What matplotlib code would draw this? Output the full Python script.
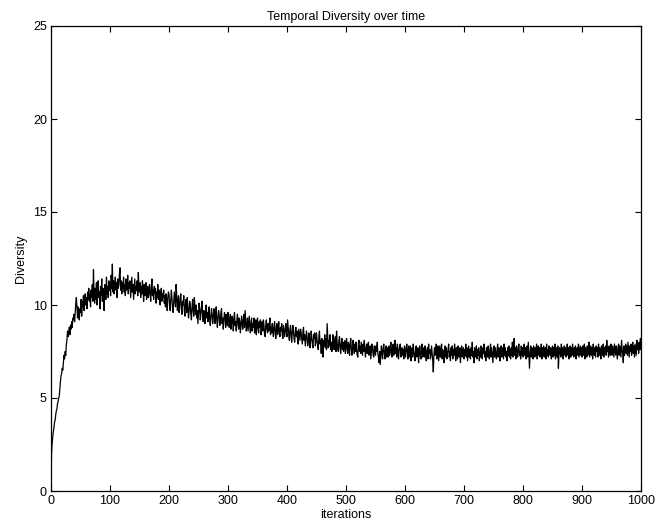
import numpy as np
import matplotlib
matplotlib.use("Agg")
import matplotlib.pyplot as plt

plt.rcParams['font.family'] = ['Liberation Sans', 'DejaVu Sans']

title_text = "Temporal Diversity over time"
x_label = "iterations"
y_label = "Diversity"
x_ticks = [0, 100, 200, 300, 400, 500, 600, 700, 800, 900, 1000]
y_ticks = [0, 5, 10, 15, 20, 25]

diversity = [
    0.5, 2.1, 2.6, 2.9, 3.2, 3.4, 3.7, 3.8, 4.1, 4.3, 4.4, 4.7, 4.8, 5.0, 5.1, 5.5, 5.9, 6.2, 6.3, 6.6, 6.5, 6.9, 7.3, 7.1, 7.5,
    7.3, 7.9, 8.1, 8.6, 8.3, 8.5, 8.8, 8.4, 8.9, 8.7, 9.1, 8.8, 9.3, 9.2, 9.5, 9.1, 9.6, 10.1, 10.4, 9.8, 9.3, 9.9, 9.5, 9.2, 9.8,
    9.6, 10.3, 9.4, 10.2, 9.9, 10.5, 9.7, 10.1, 10.6, 10.0, 10.4, 9.8, 10.7, 10.3, 10.9, 10.2, 10.6, 9.9, 10.8, 10.4, 11.1, 10.2, 11.9, 10.5, 10.1,
    10.9, 10.3, 11.2, 10.0, 10.8, 11.3, 10.4, 10.7, 9.8, 11.0, 10.5, 11.4, 10.2, 10.9, 10.6, 9.7, 11.1, 10.8, 10.3, 11.5, 10.6, 11.0, 10.4, 11.3, 10.8,
    11.2, 10.5, 11.6, 10.9, 12.2, 10.7, 11.3, 10.6, 11.0, 11.5, 10.8, 11.2, 10.4, 11.4, 10.9, 11.1, 11.7, 12.0, 10.8, 11.3, 10.6, 11.2, 10.9, 11.5, 10.7,
    11.1, 10.5, 11.4, 10.8, 11.0, 11.6, 10.6, 11.2, 10.9, 11.3, 10.4, 11.0, 11.5, 10.7, 11.1, 10.3, 10.9, 11.4, 10.6, 11.0, 10.8, 11.3, 10.5, 11.75, 10.9,
    10.7, 11.2, 10.4, 11.0, 10.6, 11.3, 10.8, 10.2, 11.1, 10.5, 10.9, 11.2, 10.3, 10.8, 11.0, 10.4, 10.7, 11.1, 10.6, 10.2, 10.9, 11.4, 10.5, 10.8, 10.3,
    11.0, 10.6, 10.9, 10.1, 10.7, 10.4, 11.1, 10.3, 10.8, 10.5, 10.0, 10.7, 10.9, 10.2, 10.6, 10.4, 10.8, 10.1, 10.5, 9.9, 10.6, 10.3, 9.7, 10.4, 10.7,
    10.6, 10.0, 9.7, 10.3, 10.8, 10.4, 9.8, 9.6, 10.2, 10.7, 10.3, 9.9, 11.1, 10.6, 9.7, 10.1, 10.5, 9.6, 9.9, 10.4, 10.6, 9.8, 9.5, 10.2, 10.0,
    10.5, 9.7, 9.4, 10.1, 10.3, 9.6, 10.4, 9.9, 9.3, 9.6, 10.2, 10.0, 9.5, 9.2, 9.9, 10.3, 9.7, 9.4, 10.4, 9.8, 9.5, 10.0, 9.3, 9.7, 9.0,
    9.6, 10.1, 9.8, 9.2, 9.5, 9.9, 10.2, 9.4, 9.1, 9.7, 9.5, 9.0, 9.8, 10.0, 9.3, 9.6, 9.1, 9.7, 9.9, 9.2, 8.9, 9.4, 9.8, 9.5, 9.0,
    9.3, 9.8, 9.6, 9.0, 9.4, 9.9, 9.2, 8.8, 9.3, 9.7, 9.5, 8.9, 9.1, 9.6, 9.8, 9.0, 9.3, 8.7, 9.2, 9.6, 9.4, 8.8, 9.5, 9.1, 8.9,
    9.6, 9.3, 8.8, 9.1, 9.5, 8.7, 9.0, 9.4, 9.2, 8.6, 9.3, 9.6, 8.9, 9.1, 8.6, 9.2, 9.5, 9.0, 8.7, 9.3, 9.1, 8.5, 8.9, 9.4, 9.0,
    8.7, 9.2, 9.5, 8.8, 9.7, 9.1, 8.6, 8.9, 9.3, 8.6, 9.0, 9.4, 8.8, 8.5, 9.1, 9.3, 8.6, 9.0, 8.8, 9.3, 8.5, 8.9, 9.2, 8.4, 9.0,
    9.3, 8.7, 8.5, 9.1, 8.8, 9.2, 8.4, 8.7, 9.1, 8.6, 9.2, 8.9, 8.4, 8.3, 8.9, 9.2, 8.7, 8.5, 9.0, 8.6, 8.9, 9.3, 8.4, 8.8, 8.5,
    9.0, 8.6, 8.3, 8.9, 9.1, 8.5, 8.2, 8.8, 9.0, 8.4, 8.7, 9.1, 8.5, 8.3, 8.8, 8.6, 9.0, 8.4, 8.2, 8.9, 8.6, 8.3, 8.7, 9.0, 8.5,
    8.3, 9.2, 8.8, 8.4, 8.1, 8.7, 8.9, 8.3, 8.0, 8.6, 8.9, 8.5, 8.2, 8.0, 8.6, 8.8, 8.3, 8.6, 8.1, 7.9, 8.7, 8.4, 8.1, 8.7, 8.5,
    8.2, 7.9, 8.6, 8.8, 8.1, 8.4, 7.8, 8.2, 8.6, 8.3, 7.8, 8.0, 8.5, 8.3, 7.7, 8.1, 8.6, 8.2, 7.9, 7.7, 8.4, 8.2, 8.5, 7.8, 8.0,
    8.5, 8.1, 7.8, 7.6, 8.3, 8.6, 7.9, 8.1, 7.4, 8.2, 8.0, 7.2, 8.1, 7.8, 8.4, 7.7, 8.2, 7.6, 9.0, 8.3, 7.7, 8.1, 7.8, 8.4, 7.6,
    8.0, 7.5, 7.9, 8.4, 7.8, 7.6, 8.1, 8.3, 7.5, 8.6, 8.0, 7.7, 7.5, 8.1, 8.3, 7.7, 7.4, 7.9, 8.2, 7.6, 8.0, 7.5, 7.8, 8.1, 7.4,
    7.9, 8.2, 7.6, 7.4, 8.0, 7.8, 7.3, 7.9, 8.2, 7.7, 7.3, 7.6, 8.1, 7.8, 7.4, 7.9, 7.5, 8.0, 7.6, 7.3, 7.2, 7.9, 8.1, 7.5, 7.8,
    7.4, 8.0, 7.6, 7.3, 7.9, 7.5, 8.1, 7.7, 7.2, 7.6, 7.9, 7.4, 7.8, 8.0, 7.3, 7.6, 7.8, 7.1, 7.5, 7.9, 7.7, 7.3, 7.2, 7.8, 7.6,
    7.3, 7.8, 7.5, 8.0, 7.4, 7.2, 6.9, 7.5, 6.8, 7.3, 7.8, 7.4, 7.1, 7.7, 7.9, 7.4, 7.1, 7.6, 7.8, 7.2, 7.7, 7.4, 7.2, 7.8, 7.3,
    7.6, 8.0, 7.5, 7.2, 7.7, 7.9, 7.3, 7.6, 8.1, 7.4, 7.7, 7.2, 7.9, 7.6, 7.1, 7.5, 7.8, 7.9, 7.2, 7.4, 7.7, 7.3, 7.6, 7.1, 7.8,
    7.5, 7.2, 7.7, 7.9, 7.4, 7.1, 7.8, 7.5, 7.2, 7.8, 7.0, 7.4, 7.7, 7.2, 7.9, 7.5, 7.3, 7.0, 7.6, 7.8, 7.2, 7.5, 7.7, 6.9, 7.4,
    7.8, 7.3, 7.1, 7.6, 7.9, 7.2, 7.4, 7.7, 7.2, 7.8, 7.5, 7.0, 7.5, 7.7, 7.1, 7.9, 7.4, 7.6, 7.1, 7.3, 7.8, 7.4, 7.0, 6.4, 7.3,
    7.7, 7.3, 7.5, 7.9, 7.1, 7.4, 7.8, 7.0, 7.4, 7.8, 7.2, 7.5, 7.9, 7.1, 7.6, 7.3, 6.9, 7.5, 7.8, 7.2, 7.7, 7.1, 7.4, 7.6, 7.9,
    7.2, 7.5, 7.0, 7.7, 7.3, 7.8, 7.1, 7.6, 7.3, 7.9, 7.4, 7.0, 7.7, 7.5, 7.1, 7.8, 7.4, 7.2, 7.7, 6.9, 7.5, 7.8, 7.2, 7.4, 7.7,
    7.1, 7.6, 7.3, 7.9, 7.2, 7.7, 7.0, 7.4, 7.8, 7.2, 7.6, 7.1, 7.7, 7.3, 8.0, 7.2, 7.5, 6.9, 7.7, 7.4, 7.2, 7.8, 7.1, 7.6, 7.3,
    7.7, 7.0, 7.5, 7.2, 7.8, 7.4, 7.1, 7.7, 7.4, 7.9, 7.2, 7.5, 7.0, 7.7, 7.4, 7.2, 7.8, 7.3, 7.1, 7.6, 7.9, 7.2, 7.7, 7.3, 6.9,
    7.5, 7.8, 7.2, 7.7, 7.3, 7.1, 7.6, 7.9, 7.2, 7.7, 7.3, 7.0, 7.6, 7.8, 7.2, 7.7, 7.4, 7.1, 7.9, 7.3, 7.7, 7.2, 7.5, 7.0, 7.7,
    7.3, 7.8, 7.2, 7.6, 7.1, 7.7, 7.3, 8.0, 7.2, 7.6, 8.2, 7.3, 7.7, 7.1, 7.8, 7.4, 7.2, 7.7, 7.9, 7.3, 7.5, 7.1, 7.8, 7.3, 7.7,
    7.2, 7.6, 7.9, 7.3, 7.7, 7.1, 7.5, 7.8, 7.2, 8.0, 7.3, 6.6, 7.4, 7.8, 7.2, 7.7, 7.3, 7.1, 7.8, 7.4, 7.2, 7.7, 7.3, 7.9, 7.1,
    7.5, 7.8, 7.3, 7.7, 7.2, 7.5, 7.9, 7.1, 7.7, 7.3, 7.8, 7.2, 7.5, 7.7, 7.1, 7.9, 7.3, 7.6, 7.2, 7.8, 7.4, 7.3, 7.7, 7.1, 7.5,
    7.8, 7.2, 7.7, 7.3, 7.9, 7.1, 7.5, 7.7, 7.2, 7.8, 6.6, 7.3, 7.7, 7.5, 7.2, 7.9, 7.3, 7.7, 7.1, 7.5, 7.8, 7.3, 7.7, 7.2, 7.5,
    7.9, 7.3, 7.7, 7.1, 7.5, 7.8, 7.2, 7.7, 7.3, 7.9, 7.5, 7.2, 7.7, 7.3, 7.8, 7.1, 7.5, 7.7, 7.3, 7.9, 7.2, 7.5, 7.8, 7.3, 7.7,
    7.2, 7.8, 7.5, 7.3, 7.9, 7.1, 7.7, 7.5, 7.2, 7.8, 7.3, 7.7, 8.0, 7.2, 7.5, 7.8, 7.3, 7.7, 7.1, 7.9, 7.5, 7.3, 7.7, 7.2, 7.8,
    7.5, 7.7, 7.2, 7.9, 7.3, 7.7, 7.5, 7.1, 7.8, 7.5, 7.3, 7.9, 7.2, 7.7, 7.5, 7.8, 7.3, 8.1, 7.5, 7.7, 7.2, 7.8, 7.5, 7.3, 7.9,
    7.7, 7.3, 7.8, 7.5, 7.2, 7.9, 7.6, 7.3, 7.8, 7.5, 7.1, 7.7, 7.9, 7.3, 7.8, 7.5, 7.2, 8.1, 7.6, 7.4, 6.9, 7.8, 7.3, 7.7, 7.9,
    7.4, 7.8, 7.3, 8.0, 7.6, 7.2, 7.8, 7.5, 7.9, 7.3, 7.7, 8.0, 7.4, 7.8, 7.2, 7.9, 7.6, 7.3, 8.1, 7.6, 7.9, 7.4, 8.0, 7.6, 8.2,
    7.6,
]

iterations = np.arange(len(diversity))

fig = plt.figure(figsize=(6.69, 5.27), dpi=100)
ax = fig.add_axes([51/669, 36/527, 590/669, 465/527])
ax.plot(iterations, diversity, color='black', linewidth=0.9)

ax.set_xlim(0, 1000)
ax.set_ylim(0, 25)
ax.set_xticks(x_ticks)
ax.set_yticks(y_ticks)
ax.tick_params(direction='in', length=4, width=0.8, top=True, right=True,
               labelsize=9, pad=3)
for s in ax.spines.values():
    s.set_linewidth(0.9)
ax.set_title(title_text, fontsize=9, pad=4)
ax.set_xlabel(x_label, fontsize=9, labelpad=1)
ax.set_ylabel(y_label, fontsize=9, labelpad=4)

fig.savefig("out.png", dpi=100)
